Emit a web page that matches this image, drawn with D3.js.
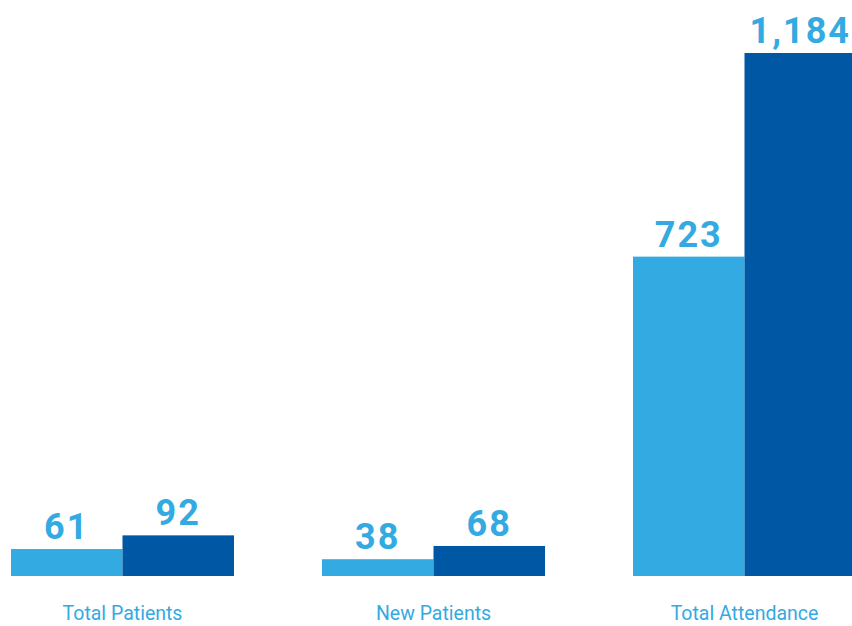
<!DOCTYPE html>
<html>
<head>
<meta charset="utf-8">
<script src="https://cdn.jsdelivr.net/npm/d3@7"></script>
<style>
  html, body { margin: 0; padding: 0; background: #ffffff; }
  svg { display: block; }
</style>
</head>
<body>
<svg id="chart" width="852" height="626"></svg>
<script>
const categories = ["Total Patients", "New Patients", "Total Attendance"];
const seriesNames = ["Previous", "Current"];
const previousValues = [61, 38, 723];
const currentValues = [92, 68, 1184];
const seriesColors = ["#33aae1", "#0057a4"];

const svg = d3.select("#chart");
const baseline = 576, topY = 53;

const x0 = d3.scaleBand().domain(categories).range([11, 856]).paddingInner(0.283).paddingOuter(0);
const x1 = d3.scaleBand().domain(seriesNames).range([0, x0.bandwidth()]).padding(0);
const y = d3.scaleLinear().domain([0, d3.max(currentValues)]).range([baseline, topY]);
const color = d3.scaleOrdinal().domain(seriesNames).range(seriesColors);

const data = categories.map((c, i) => ({
  category: c,
  values: [
    { key: seriesNames[0], value: previousValues[i] },
    { key: seriesNames[1], value: currentValues[i] }
  ]
}));

const fmt = d3.format(",");

const g = svg.selectAll("g.group").data(data).join("g")
  .attr("class", "group")
  .attr("transform", d => `translate(${x0(d.category)},0)`);

g.selectAll("rect").data(d => d.values).join("rect")
  .attr("x", d => x1(d.key))
  .attr("y", d => y(d.value))
  .attr("width", x1.bandwidth())
  .attr("height", d => baseline - y(d.value))
  .attr("fill", d => color(d.key));

g.selectAll("text.val").data(d => d.values).join("text")
  .attr("class", "val")
  .attr("x", d => x1(d.key) + x1.bandwidth() / 2)
  .attr("y", d => y(d.value) - 10)
  .attr("text-anchor", "middle")
  .attr("font-family", "Roboto, sans-serif")
  .attr("font-weight", 700)
  .attr("font-size", 36)
  .attr("letter-spacing", 2)
  .attr("fill", "#33aae1")
  .text(d => fmt(d.value));

// category axis
const axis = d3.axisBottom(x0).tickSize(0).tickPadding(0);
const ax = svg.append("g").attr("transform", `translate(0,${baseline})`).call(axis);
ax.select(".domain").remove();
ax.selectAll("text")
  .attr("y", 44)
  .attr("dy", 0)
  .attr("font-family", "Roboto, sans-serif")
  .attr("font-weight", 400)
  .attr("font-size", 19.5)
  .attr("fill", "#33aae1");
</script>
</body>
</html>
